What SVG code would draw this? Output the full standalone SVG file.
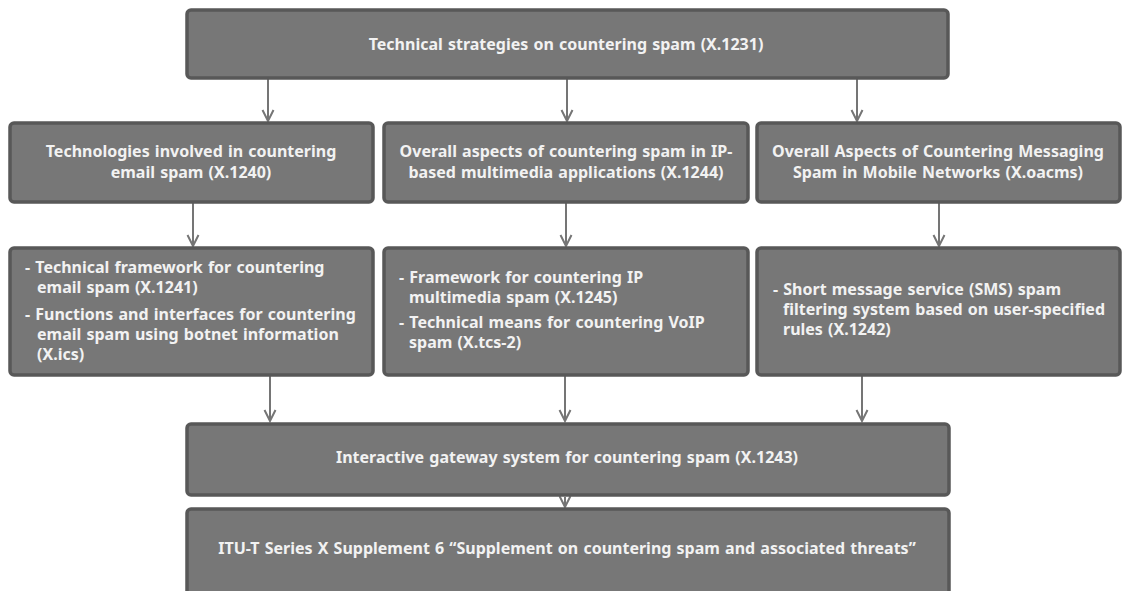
<svg xmlns="http://www.w3.org/2000/svg" width="1122" height="591" viewBox="0 0 1122 591">
<style>
.box{fill:#777777;stroke:#585858;stroke-width:3.5}
.t{font-family:"Noto Sans","DejaVu Sans",sans-serif;font-weight:bold;font-size:16px;word-spacing:1px;fill:#f2f2f2}
.c{text-anchor:middle}
.cn{stroke:#757575;stroke-width:2;fill:none}
</style>
<defs>
<marker id="ah" markerWidth="14" markerHeight="14" refX="12" refY="7" orient="auto" markerUnits="userSpaceOnUse" viewBox="0 0 14 14">
<path d="M1,1.5 L12,7 L1,12.5" fill="none" stroke="#757575" stroke-width="2"/>
</marker>
</defs>
<rect width="1122" height="591" fill="#ffffff"/>
<g id="connectors">
<line class="cn" x1="268" y1="79" x2="268" y2="121" marker-end="url(#ah)"/>
<line class="cn" x1="567" y1="79" x2="567" y2="121" marker-end="url(#ah)"/>
<line class="cn" x1="857" y1="79" x2="857" y2="121" marker-end="url(#ah)"/>
<line class="cn" x1="193" y1="203" x2="193" y2="246" marker-end="url(#ah)"/>
<line class="cn" x1="566" y1="203" x2="566" y2="246" marker-end="url(#ah)"/>
<line class="cn" x1="939" y1="203" x2="939" y2="246" marker-end="url(#ah)"/>
<line class="cn" x1="270" y1="376" x2="270" y2="421" marker-end="url(#ah)"/>
<line class="cn" x1="565" y1="376" x2="565" y2="421" marker-end="url(#ah)"/>
<line class="cn" x1="862" y1="376" x2="862" y2="421" marker-end="url(#ah)"/>
<line class="cn" x1="565" y1="497" x2="565" y2="507" marker-end="url(#ah)"/>
</g>
<g id="n_top">
<rect class="box" x="187" y="10" width="761" height="68" rx="4"/>
<text class="t c" x="566" y="50">Technical strategies on countering spam (X.1231)</text>
</g>
<g id="n_x1240">
<rect class="box" x="10" y="123" width="363" height="79" rx="4"/>
<text class="t c" x="191" y="157">Technologies involved in countering</text>
<text class="t c" x="191" y="178">email spam (X.1240)</text>
</g>
<g id="n_x1244">
<rect class="box" x="384" y="123" width="364" height="79" rx="4"/>
<text class="t c" x="566" y="157">Overall aspects of countering spam in IP-</text>
<text class="t c" x="566" y="178">based multimedia applications (X.1244)</text>
</g>
<g id="n_xoacms">
<rect class="box" x="757" y="123" width="363" height="79" rx="4"/>
<text class="t c" x="938" y="157">Overall Aspects of Countering Messaging</text>
<text class="t c" x="938" y="178">Spam in Mobile Networks (X.oacms)</text>
</g>
<g id="n_x1241">
<rect class="box" x="10" y="248" width="363" height="127" rx="4"/>
<text class="t" x="25" y="273">- Technical framework for countering</text>
<text class="t" x="37" y="293">email spam (X.1241)</text>
<text class="t" x="25" y="320">- Functions and interfaces for countering</text>
<text class="t" x="37" y="340">email spam using botnet information</text>
<text class="t" x="37" y="360">(X.ics)</text>
</g>
<g id="n_x1245">
<rect class="box" x="384" y="248" width="364" height="127" rx="4"/>
<text class="t" x="399" y="283">- Framework for countering IP</text>
<text class="t" x="409" y="303">multimedia spam (X.1245)</text>
<text class="t" x="399" y="328">- Technical means for countering VoIP</text>
<text class="t" x="409" y="348">spam (X.tcs-2)</text>
</g>
<g id="n_x1242">
<rect class="box" x="757" y="248" width="363" height="127" rx="4"/>
<text class="t" x="773" y="295">- Short message service (SMS) spam</text>
<text class="t" x="783" y="315">filtering system based on user-specified</text>
<text class="t" x="783" y="335">rules (X.1242)</text>
</g>
<g id="n_x1243">
<rect class="box" x="187" y="424" width="762" height="71" rx="4"/>
<text class="t c" x="567" y="463">Interactive gateway system for countering spam (X.1243)</text>
</g>
<g id="n_sup6">
<rect class="box" x="187" y="509" width="762" height="90" rx="4"/>
<text class="t c" x="567" y="554">ITU-T Series X Supplement 6 “Supplement on countering spam and associated threats”</text>
</g>
</svg>
